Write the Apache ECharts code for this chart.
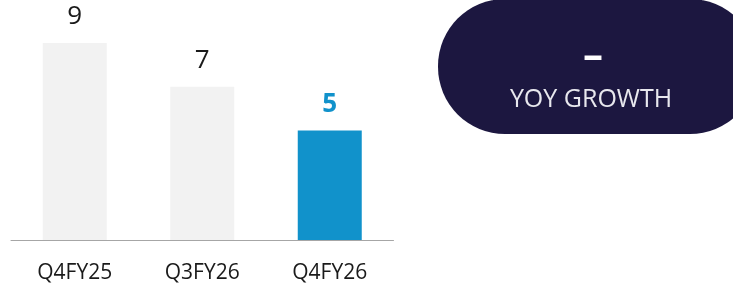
<!DOCTYPE html>
<html>
<head>
<meta charset="utf-8">
<script src="https://cdn.jsdelivr.net/npm/echarts@6/dist/echarts.min.js"></script>
<style>
  html, body { margin: 0; padding: 0; background: #fff; }
  #chart { width: 733px; height: 286px; }
</style>
</head>
<body>
<div id="chart"></div>
<script>
const quarters = ["Q4FY25", "Q3FY26", "Q4FY26"];
const values = [9, 7, 5];
const barColors = ["#f2f2f2", "#f2f2f2", "#1192cb"];
const growthValue = "–";
const growthLabel = "YOY GROWTH";

const FONT = "'Open Sans', 'Noto Sans', sans-serif";

const chart = echarts.init(document.getElementById("chart"), null, { renderer: "canvas" });

// last bar is the highlighted one
const barData = values.map((v, i) => {
  const isLast = i === values.length - 1;
  return {
    value: v,
    itemStyle: { color: barColors[i] },
    label: {
      color: isLast ? "#1192cb" : "#1a1a1a",
      fontWeight: isLast ? "bold" : "normal",
    },
  };
});

const option = {
  animation: false,
  grid: { left: 11, right: 339.5, top: 21, bottom: 46, containLabel: false },
  xAxis: {
    type: "category",
    data: quarters,
    axisLine: { show: true, lineStyle: { color: "#a6a6a6", width: 1 } },
    axisTick: { show: false },
    axisLabel: { color: "#1a1a1a", fontSize: 21, fontFamily: FONT, margin: 23 },
  },
  yAxis: {
    type: "value",
    min: 0,
    max: 10,
    show: false,
    splitLine: { show: false },
  },
  series: [
    {
      type: "bar",
      data: barData,
      barWidth: 64,
      label: {
        show: true,
        position: "top",
        distance: 13,
        fontSize: 26,
        fontFamily: FONT,
      },
    },
  ],
  graphic: [
    {
      type: "rect",
      shape: { x: 438, y: -1, width: 319, height: 135, r: 67 },
      style: { fill: "#1c1740" },
      z: 1,
    },
    {
      type: "text",
      x: 593,
      y: 57,
      style: {
        text: growthValue,
        fill: "#ffffff",
        font: "bold 40px " + FONT,
        textAlign: "center",
        textVerticalAlign: "middle",
      },
      z: 2,
    },
    {
      type: "text",
      x: 591,
      y: 100,
      style: {
        text: growthLabel,
        fill: "#e8e8ee",
        font: "25px " + FONT,
        textAlign: "center",
        textVerticalAlign: "middle",
      },
      z: 2,
    },
  ],
};

chart.setOption(option);
</script>
</body>
</html>
